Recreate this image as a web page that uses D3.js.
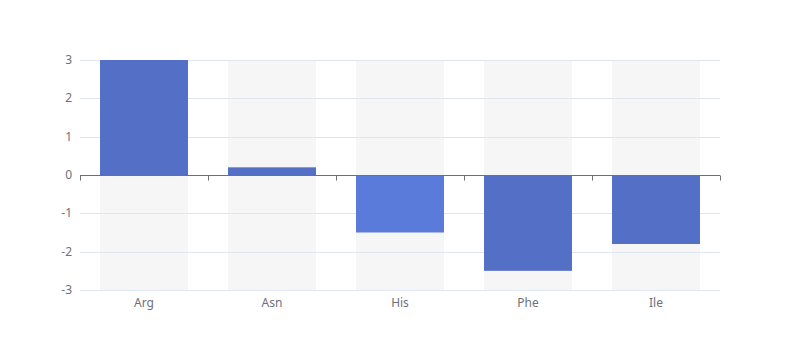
<!DOCTYPE html>
<html><head><meta charset="utf-8">
<script src="https://cdn.jsdelivr.net/npm/d3@7"></script>
<style>body{margin:0;background:#fff}svg{display:block}</style>
</head><body><svg id="c" width="800" height="360"></svg>
<script>
const categories = ["Arg","Asn","His","Phe","Ile"];
const values = [3, 0.2, -1.5, -2.5, -1.8];
const yTicks = [-3,-2,-1,0,1,2,3];
const barColors = ["#5470c6","#5470c6","#5b7bda","#5470c6","#5470c6"];

const svg = d3.select("#c");
const m = {l:80, r:80, t:60, b:70};
const W = 800, H = 360;
const x = d3.scaleBand().domain(categories).range([m.l, W-m.r]).paddingInner(0).paddingOuter(0);
const y = d3.scaleLinear().domain([-3,3]).range([H-m.b, m.t]);
const bw = x.bandwidth()*0.6875;
const off = (x.bandwidth()-bw)/2;

// background bars
svg.append("g").selectAll("rect").data(categories).join("rect")
  .attr("x", d=>x(d)+off).attr("width", bw)
  .attr("y", y(3)).attr("height", y(-3)-y(3))
  .attr("fill","#f6f6f6");

// grid
svg.append("g").selectAll("line").data(yTicks).join("line")
  .attr("x1", m.l).attr("x2", W-m.r)
  .attr("y1", d=>Math.round(y(d))+0.5).attr("y2", d=>Math.round(y(d))+0.5)
  .attr("stroke","#e0e6f1");

// bars
svg.append("g").selectAll("rect").data(values).join("rect")
  .attr("x",(d,i)=>x(categories[i])+off).attr("width", bw)
  .attr("y", d=>y(Math.max(0,d))).attr("height", d=>Math.abs(y(d)-y(0)))
  .attr("fill",(d,i)=>barColors[i]);

// zero axis
const zy = Math.round(y(0))+0.5;
const ax = svg.append("g").attr("transform",`translate(0,${zy})`);
ax.append("line").attr("x1",m.l).attr("x2",W-m.r).attr("stroke","#6e7079");
const bounds = categories.map(c=>x(c)).concat([x(categories[categories.length-1])+x.bandwidth()]);
ax.selectAll("line.t").data(bounds).join("line").attr("class","t")
  .attr("x1",d=>Math.round(d)+0.5).attr("x2",d=>Math.round(d)+0.5).attr("y1",0).attr("y2",5)
  .attr("stroke","#6e7079");

// x labels
svg.append("g").selectAll("text").data(categories).join("text")
  .attr("x", d=>x(d)+x.bandwidth()/2).attr("y", y(-3)+17)
  .attr("text-anchor","middle").attr("fill","#6e7079")
  .attr("font-family","'Microsoft YaHei', 'Noto Sans', sans-serif").attr("font-size",12)
  .text(d=>d);

// y labels
svg.append("g").selectAll("text").data(yTicks).join("text")
  .attr("x", m.l-8).attr("y", d=>y(d)+4)
  .attr("text-anchor","end").attr("fill","#6e7079")
  .attr("font-family","'Microsoft YaHei', 'Noto Sans', sans-serif").attr("font-size",12)
  .text(d=>d);
</script></body></html>
